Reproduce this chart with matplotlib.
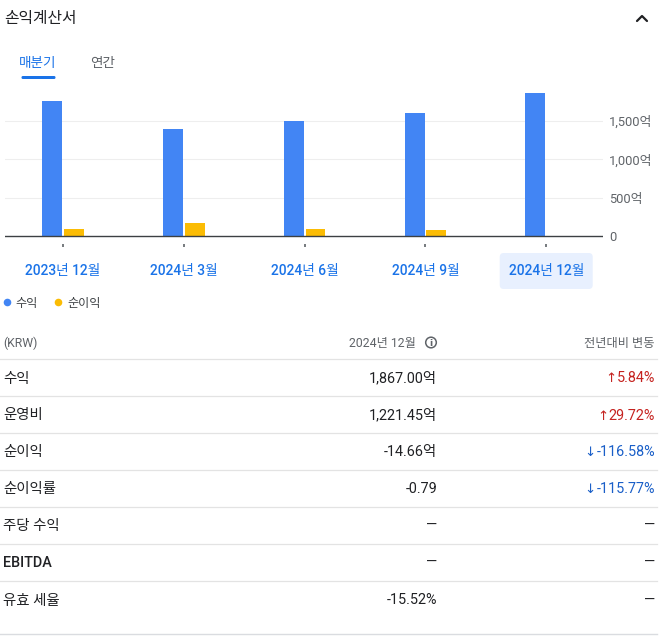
import matplotlib
matplotlib.use("Agg")
import matplotlib.pyplot as plt
from matplotlib.patches import FancyBboxPatch, Circle
from matplotlib.transforms import blended_transform_factory

plt.rcParams['font.family'] = ['Roboto', 'Noto Sans CJK KR', 'DejaVu Sans']

# ---- data ----
periods = ['2023년 12월', '2024년 3월', '2024년 6월', '2024년 9월', '2024년 12월']
revenue = [1764, 1393, 1497, 1597, 1867]          # 억 KRW
net_income = [88, 173, 87, 74, -14.66]            # 억 KRW
y_ticks = [0, 500, 1000, 1500]
y_tick_labels = ['0', '500억', '1,000억', '1,500억']
series_names = ['수익', '순이익']
series_colors = ['#4285f4', '#fbbc04']

row_labels = ['수익', '운영비', '순이익', '순이익률', '주당 수익', 'EBITDA', '유효 세율']
row_values = ['1,867.00억', '1,221.45억', '-14.66억', '-0.79', '—', '—', '-15.52%']
row_changes = ['5.84%', '29.72%', '-116.58%', '-115.77%', '—', '—', '—']
change_dirs = ['up', 'up', 'down', 'down', None, None, None]

W, H = 661, 636
fig = plt.figure(figsize=(W / 100, H / 100), dpi=100)
fig.patch.set_facecolor('white')

def fx(x):
    return x / W

def fy(y):
    return 1 - y / H

# ---- chart axes ----
y_top_px, y_bot_px = 82.4, 243.68
ax = fig.add_axes([fx(5), fy(y_bot_px), fx(603) - fx(5), (y_bot_px - y_top_px) / H])
ax.set_facecolor('none')
ax.set_xlim(-0.48, 4.47)
ax.set_ylim(-100, 2000)
xs = list(range(len(periods)))
bw = 0.165
off = 0.09
ax.bar([x - off for x in xs], revenue, width=bw, color=series_colors[0], zorder=3)
ax.bar([x + off for x in xs], net_income, width=bw, color=series_colors[1], zorder=3)
for t in y_ticks[1:]:
    ax.axhline(t, color='#eeeeee', lw=0.8, zorder=1)
ax.axhline(0, color='#3c4043', lw=1.0, zorder=4)
for s in ax.spines.values():
    s.set_visible(False)
ax.yaxis.tick_right()
ax.set_yticks(y_ticks)
ax.set_yticklabels(y_tick_labels)
ax.tick_params(axis='y', length=0, pad=4.5, labelsize=9.3, labelcolor='#5f6368')
ax.set_xticks(xs)
ax.set_xticklabels([''] * len(xs))
ax.tick_params(axis='x', direction='out', length=2.2, width=1.2, color='#5f6368')

# ---- overlay in pixel coords ----
ov = fig.add_axes([0, 0, 1, 1], zorder=10)
ov.set_xlim(0, W)
ov.set_ylim(H, 0)
ov.axis('off')
ov.set_facecolor('none')

# title and chevron
ov.text(4, 19, '손익계산서', fontsize=11.4, color='#202124', va='center', ha='left')
ov.plot([637, 642, 647], [21, 16, 21], color='#202124', lw=1.6, solid_capstyle='round',
        solid_joinstyle='round')

# tabs
ov.text(19, 62.5, '매분기', fontsize=9.8, color='#1a73e8', va='center', ha='left', fontweight=500)
ov.text(90, 62.5, '연간', fontsize=9.8, color='#5f6368', va='center', ha='left')
ov.add_patch(FancyBboxPatch((21.5, 76), 34, 3, boxstyle='round,pad=0,rounding_size=1.4',
                            fc='#1a73e8', ec='none'))

# category labels
tr = blended_transform_factory(ax.transData, ov.transData)
for i, p in enumerate(periods):
    if i == len(periods) - 1:
        cx = ax.transData.transform((i, 0))[0]
        ov.add_patch(FancyBboxPatch((cx - 46.5, 253), 93, 36,
                                    boxstyle='round,pad=0,rounding_size=4',
                                    fc='#e8f0fe', ec='none'))
    ov.text(i, 271.5, p, transform=tr, fontsize=9.9, color='#1a73e8', ha='center',
            va='center', fontweight=500)

# legend
ov.add_patch(Circle((7.5, 302.5), 3.8, fc=series_colors[0], ec='none'))
ov.text(15, 303.5, series_names[0], fontsize=8.7, color='#3c4043', va='center', ha='left')
ov.add_patch(Circle((58.5, 302.5), 3.8, fc=series_colors[1], ec='none'))
ov.text(67, 303.5, series_names[1], fontsize=8.7, color='#3c4043', va='center', ha='left')

# table header
ov.text(3, 343, '(KRW)', fontsize=8.8, color='#5f6368', va='center', ha='left')
ov.text(416, 343, '2024년 12월', fontsize=8.8, color='#5f6368', va='center', ha='right')
ov.add_patch(Circle((431, 342.5), 5.3, fc='none', ec='#5f6368', lw=1.1))
ov.text(431, 343, 'i', fontsize=6.5, color='#5f6368', va='center', ha='center',
        fontweight='bold', family='DejaVu Sans')
ov.text(655, 343, '전년대비 변동', fontsize=8.8, color='#5f6368', va='center', ha='right')

sep_y = [359.3, 396.3, 433.3, 470.3, 507.3, 544.3, 581.3]
row_y = [378.5, 415.5, 452, 489, 526, 563, 600.5]
for y in sep_y:
    ov.plot([0, 657], [y, y], color='#e3e3e3', lw=0.9)
ov.plot([0, 657], [633.5, 633.5], color='#dadce0', lw=1.0)

renderer = fig.canvas.get_renderer()
for lab, val, ch, d, y in zip(row_labels, row_values, row_changes, change_dirs, row_y):
    ov.text(3, y, lab, fontsize=10.4, color='#202124', va='center', ha='left', fontweight=500)
    ov.text(437, y, val, fontsize=10.4, color='#202124', va='center', ha='right')
    col = '#c5221f' if d == 'up' else ('#1a5fc8' if d == 'down' else '#202124')
    t = ov.text(655, y, ch, fontsize=10.4, color=col, va='center', ha='right')
    if d is not None:
        bb = t.get_window_extent(renderer=renderer)
        arrow = '↑' if d == 'up' else '↓'
        ov.text(bb.x0 - 0.5, H - (bb.y0 + bb.y1) / 2 + 0.5, arrow, fontsize=9.6, color=col,
                va='center', ha='right', family='DejaVu Sans')

fig.savefig('out.png', dpi=100, facecolor='white')
